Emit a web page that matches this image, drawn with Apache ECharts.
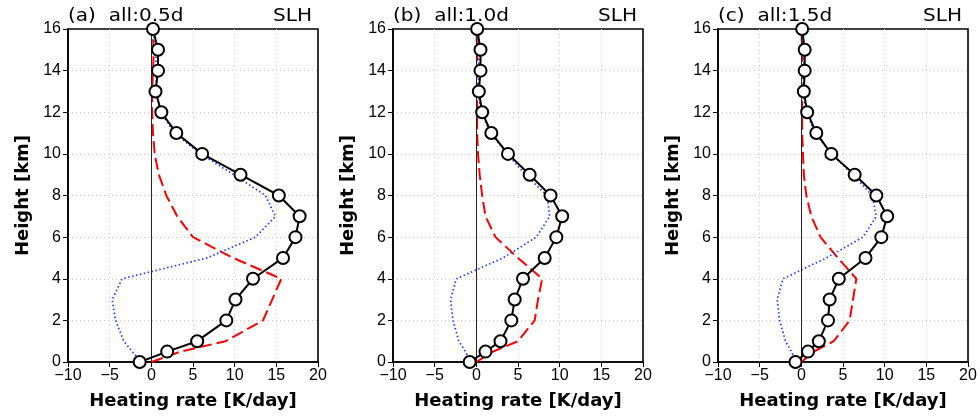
<!DOCTYPE html>
<html>
<head>
<meta charset="utf-8">
<script src="https://cdn.jsdelivr.net/npm/echarts@6/dist/echarts.min.js"></script>
<style>
html, body { margin: 0; padding: 0; background: #fff; }
#main { width: 980px; height: 419px; }
</style>
</head>
<body>
<div id="main"></div>
<script>
// heights of the profile levels (km)
var heights = [0, 0.5, 1, 2, 3, 4, 5, 6, 7, 8, 9, 10, 11, 12, 13, 14, 15, 16];

var panelTitles = ["(a)  all:0.5d", "(b)  all:1.0d", "(c)  all:1.5d"];

// total (black, circles)
var totalA = [-1.4, 1.9, 5.5, 9.0, 10.1, 12.2, 15.8, 17.3, 17.8, 15.3, 10.7, 6.1, 3.0, 1.2, 0.5, 0.8, 0.8, 0.2];
var totalB = [-0.8, 1.1, 2.9, 4.2, 4.6, 5.6, 8.2, 9.6, 10.3, 8.9, 6.4, 3.8, 1.8, 0.7, 0.3, 0.5, 0.5, 0.1];
var totalC = [-0.7, 0.8, 2.1, 3.2, 3.4, 4.5, 7.7, 9.6, 10.3, 9.0, 6.4, 3.6, 1.8, 0.7, 0.3, 0.4, 0.4, 0.1];

// red dashed
var redA = [0.0, 3.5, 8.9, 13.4, 14.5, 15.6, 9.8, 5.0, 3.1, 1.8, 0.9, 0.4, 0.2, 0.1, 0.1, 0.2, 0.3, 0.1];
var redB = [0.0, 2.0, 5.0, 7.0, 7.4, 7.9, 5.0, 2.3, 1.1, 0.7, 0.4, 0.2, 0.1, 0.1, 0.1, 0.1, 0.1, 0.0];
var redC = [0.0, 1.5, 3.9, 5.8, 6.2, 6.6, 4.4, 2.3, 1.2, 0.6, 0.3, 0.2, 0.1, 0.1, 0.1, 0.1, 0.1, 0.0];

// blue dotted
var blueA = [-1.2, -2.3, -3.3, -4.3, -4.7, -3.5, 6.7, 12.5, 14.9, 13.7, 9.9, 5.9, 2.8, 1.1, 0.6, 0.6, 0.5, 0.2];
var blueB = [-0.7, -1.3, -2.1, -2.8, -3.1, -2.4, 3.2, 7.2, 8.8, 8.5, 5.9, 3.7, 1.7, 0.6, 0.2, 0.3, 0.3, 0.1];
var blueC = [-0.6, -1.2, -1.9, -2.6, -2.9, -2.2, 3.0, 7.4, 9.0, 8.5, 6.2, 3.6, 1.7, 0.6, 0.2, 0.3, 0.3, 0.1];

var totals = [totalA, totalB, totalC];
var reds = [redA, redB, redC];
var blues = [blueA, blueB, blueC];

var gridLefts = [68, 393, 718];
var gridW = 250;
var gridTop = 29;
var gridH = 333;

function pairs(xs) {
    return xs.map(function (v, i) { return [v, heights[i]]; });
}

var font = "DejaVu Sans";
var tickFont = "Liberation Sans";
var grids = [], xAxes = [], yAxes = [], series = [], graphics = [];
var dotted = { show: true, showMinLine: false, showMaxLine: false, lineStyle: { color: '#c8c8c8', type: [1, 3], width: 1 } };

for (var i = 0; i < 3; i++) {
    grids.push({
        left: gridLefts[i], top: gridTop, width: gridW, height: gridH,
        show: true, borderColor: '#000', borderWidth: 1.6, backgroundColor: 'transparent'
    });
    xAxes.push({
        gridIndex: i, type: 'value', min: -10, max: 20, interval: 5,
        name: 'Heating rate [K/day]', nameLocation: 'middle', nameGap: 30,
        nameTextStyle: { fontFamily: font, fontSize: 18, color: '#000', fontWeight: 'bold' },
        axisLine: { show: true, onZero: false, lineStyle: { color: '#000', width: 1.6 } },
        axisTick: { show: true, inside: false, length: 5, lineStyle: { color: '#000' } },
        axisLabel: {
            fontFamily: tickFont, fontSize: 16, color: '#000', margin: 6,
            formatter: function (v) { return String(v).replace('-', '\u2212'); }
        },
        splitLine: dotted
    });
    yAxes.push({
        gridIndex: i, type: 'value', min: 0, max: 16, interval: 2,
        name: 'Height [km]', nameLocation: 'middle', nameGap: 36, nameRotate: 90,
        nameTextStyle: { fontFamily: font, fontSize: 18, color: '#000', fontWeight: 'bold' },
        axisLine: { show: true, onZero: false, lineStyle: { color: '#000', width: 1.6 } },
        axisTick: { show: true, inside: false, length: 5, lineStyle: { color: '#000' } },
        axisLabel: { fontFamily: tickFont, fontSize: 16, color: '#000', margin: 7 },
        splitLine: dotted
    });

    series.push({
        type: 'line', xAxisIndex: i, yAxisIndex: i, data: pairs(reds[i]),
        showSymbol: false, symbol: 'none', z: 3,
        lineStyle: { color: '#ff0000', width: 2, type: [12, 5] },
        markLine: {
            silent: true, symbol: 'none', label: { show: false },
            lineStyle: { color: '#222', width: 1, type: 'solid' },
            data: [{ xAxis: 0 }]
        }
    });
    series.push({
        type: 'line', xAxisIndex: i, yAxisIndex: i, data: pairs(blues[i]),
        showSymbol: false, symbol: 'none', z: 3,
        lineStyle: { color: '#1a3cff', width: 1.7, type: [1.5, 2.5] }
    });
    series.push({
        type: 'line', xAxisIndex: i, yAxisIndex: i, data: pairs(totals[i]),
        symbol: 'circle', symbolSize: 12, z: 5, clip: false,
        itemStyle: { color: '#fff', borderColor: '#000', borderWidth: 2 },
        lineStyle: { color: '#000', width: 2 }
    });

    graphics.push({
        type: 'text', x: gridLefts[i], y: 25, scaleX: 1.18,
        style: { text: panelTitles[i], font: '17px "DejaVu Sans"', fill: '#000', verticalAlign: 'bottom' }
    });
    graphics.push({
        type: 'text', x: gridLefts[i] + gridW - 6, y: 25, scaleX: 1.18,
        style: { text: 'SLH', font: '17px "DejaVu Sans"', fill: '#000', align: 'right', verticalAlign: 'bottom' }
    });
}

var chart = echarts.init(document.getElementById('main'));
chart.setOption({
    animation: false,
    backgroundColor: '#fff',
    grid: grids,
    xAxis: xAxes,
    yAxis: yAxes,
    series: series,
    graphic: graphics
});
</script>
</body>
</html>
